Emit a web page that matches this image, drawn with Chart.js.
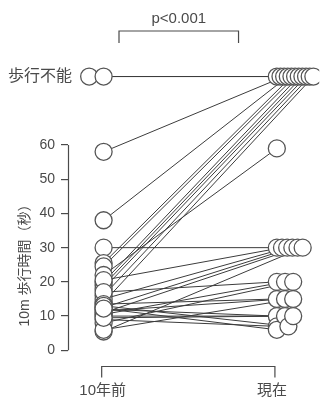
<!DOCTYPE html>
<html>
<head>
<meta charset="utf-8">
<script src="https://cdn.jsdelivr.net/npm/chart.js@4"></script>
<style>
  html, body { margin: 0; padding: 0; background: #fff; }
  canvas { display: block; }
</style>
</head>
<body>
<canvas id="myChart" width="329" height="399"></canvas>
<script>
// 各被験者の値（'U' = 歩行不能）
const before = ['U', 'U', 58, 38, 30, 25.5, 24.5, 22, 20, 19, 18, 16, 14, 20.5, 15,
                12.5, 11, 5.5, 17, 13.5, 12, 10.5, 11.5, 10, 9, 13, 8, 6, 9.5, 12.2];
const after  = ['U', 'U', 'U', 'U', 30, 'U', 'U', 59, 'U', 'U', 'U', 'U', 'U', 30, 30,
                30, 30, 30, 20, 15, 10, 20, 15, 10, 7, 7, 20, 15, 10, 6];

const periodLabels = ['10年前', '現在'];
const unableLabel = '歩行不能';
const yTicks = [0, 10, 20, 30, 40, 50, 60];
const yTitle = '10m 歩行時間（秒）';
const pText = 'p<0.001';

const UNABLE = 80;      // 歩行不能の行の高さ
const PX = 180;         // x 1単位あたりのピクセル
const FONT = '"Liberation Sans", "Noto Sans CJK JP", sans-serif';
const INK = '#4a4a4a';

function yOf(v) { return v === 'U' ? UNABLE : v; }

// 同じ値の点を横にずらす
function spreadX(values, base, side) {
    const groups = {};
    values.forEach((v, i) => { (groups[v] = groups[v] || []).push(i); });
    const xs = new Array(values.length);
    Object.values(groups).forEach(idx => {
        const n = idx.length;
        if (side === 'left') {
            idx.forEach((i, k) => xs[i] = base + (2 - (n - 1 - k) * 15) / PX);
        } else {
            const step = n > 1 ? 12 * Math.sqrt(n - 1) / (n - 1) : 0;
            idx.forEach((i, k) => xs[i] = base + (2 + k * step) / PX);
        }
    });
    return xs;
}

const leftX = spreadX(before, 0, 'left');
const rightX = spreadX(after, 1, 'right');

const lineSets = before.map((v, i) => ({
    data: [{ x: leftX[i], y: yOf(v) }, { x: rightX[i], y: yOf(after[i]) }],
    showLine: true,
    borderColor: '#3c3c3c',
    borderWidth: 1,
    pointRadius: 0,
    order: 1
}));

const leftPts = before.map((v, i) => ({ x: leftX[i], y: yOf(v) })).sort((a, b) => a.x - b.x);
const rightPts = after.map((v, i) => ({ x: rightX[i], y: yOf(v) })).sort((a, b) => a.x - b.x);

const pointStyle = {
    showLine: false,
    pointRadius: 8.5,
    pointBackgroundColor: '#ffffff',
    pointBorderColor: '#555',
    pointBorderWidth: 1.3,
    order: -1
};

// 軸線、括弧、ラベルなど
const decor = {
    id: 'decor',
    afterDraw(chart) {
        const ctx = chart.ctx;
        const xs = chart.scales.x, ys = chart.scales.y;
        const area = chart.chartArea;
        ctx.save();
        ctx.strokeStyle = INK;
        ctx.fillStyle = INK;
        ctx.lineWidth = 1.2;

        // y軸 (0〜60)
        const ax = Math.round(ys.right) + 0.5;
        ctx.beginPath();
        ctx.moveTo(ax, ys.getPixelForValue(0));
        ctx.lineTo(ax, ys.getPixelForValue(60));
        ctx.stroke();

        // 歩行不能
        ctx.font = '16px ' + FONT;
        ctx.textAlign = 'center';
        ctx.textBaseline = 'middle';
        ctx.fillText(unableLabel, 40, ys.getPixelForValue(UNABLE));

        // y軸タイトル
        ctx.save();
        ctx.translate(25, 262);
        ctx.rotate(-Math.PI / 2);
        ctx.font = '14px ' + FONT;
        ctx.fillText(yTitle, 0, 0);
        ctx.restore();

        // 上の括弧と p値
        const tx0 = xs.getPixelForValue(0.1), tx1 = xs.getPixelForValue(0.79);
        const ty = 31;
        ctx.beginPath();
        ctx.moveTo(tx0, ty + 12);
        ctx.lineTo(tx0, ty);
        ctx.lineTo(tx1, ty);
        ctx.lineTo(tx1, ty + 12);
        ctx.stroke();
        ctx.font = '15px ' + FONT;
        ctx.fillText(pText, (tx0 + tx1) / 2, 19);

        // 下の括弧と期間ラベル
        const bx0 = xs.getPixelForValue(0), bx1 = xs.getPixelForValue(1);
        const by = area.bottom + 2.5;
        ctx.beginPath();
        ctx.moveTo(bx0, by + 11);
        ctx.lineTo(bx0, by);
        ctx.lineTo(bx1, by);
        ctx.lineTo(bx1, by + 11);
        ctx.stroke();
        ctx.font = '15px ' + FONT;
        ctx.fillText(periodLabels[0], bx0 + 1, 391);
        ctx.fillText(periodLabels[1], bx1 - 3, 391);
        ctx.restore();
    }
};

const ctx = document.getElementById('myChart').getContext('2d');
const myChart = new Chart(ctx, {
    type: 'scatter',
    data: {
        datasets: [
            ...lineSets,
            { data: leftPts, ...pointStyle },
            { data: rightPts, ...pointStyle }
        ]
    },
    options: {
        responsive: false,
        animation: false,
        layout: { padding: { top: 56, bottom: 35, left: 0, right: 0 } },
        scales: {
            x: {
                type: 'linear',
                display: false,
                min: -0.1944,
                max: 1.2556
            },
            y: {
                type: 'linear',
                min: -4,
                max: 86,
                afterBuildTicks: scale => { scale.ticks = yTicks.map(v => ({ value: v })); },
                afterFit: scale => { scale.width = 68; },
                border: { display: false },
                grid: {
                    drawOnChartArea: false,
                    drawTicks: true,
                    tickLength: 7,
                    tickColor: INK,
                    lineWidth: 1.2
                },
                ticks: {
                    padding: 6,
                    color: INK,
                    font: { size: 14, family: FONT }
                }
            }
        },
        plugins: {
            legend: { display: false },
            tooltip: { enabled: false }
        }
    },
    plugins: [decor]
});
</script>
</body>
</html>
